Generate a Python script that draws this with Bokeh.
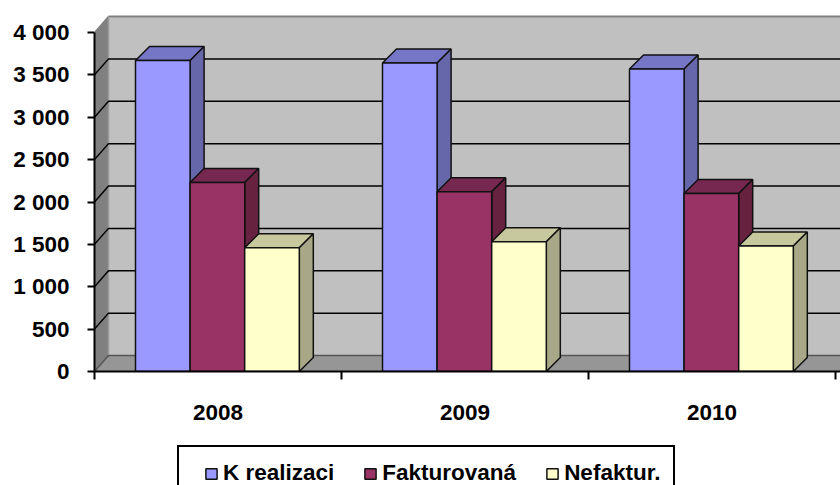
from bokeh.plotting import figure
from bokeh.layouts import column
from bokeh.models import Range1d, LinearAxis, FixedTicker, Legend, LegendItem
from bokeh.embed import file_html
from bokeh.resources import INLINE

years = ["2008", "2009", "2010"]
series = ["K realizaci", "Fakturovaná", "Nefaktur."]
k_realizaci = [3670, 3640, 3570]
fakturovana = [2230, 2120, 2100]
nefaktur = [1460, 1530, 1480]
y_ticks = [0, 500, 1000, 1500, 2000, 2500, 3000, 3500, 4000]
y_labels = ["0", "500", "1 000", "1 500", "2 000", "2 500", "3 000", "3 500", "4 000"]
front = ["#9999FF", "#993366", "#FFFFCC"]
top = ["#7676C6", "#772850", "#C8C89E"]
side = ["#6666AA", "#66223F", "#A8A888"]

W, H1, H2 = 840, 440, 45
LEFT, BOTTOM = 94, 69
PX_X = 247.0          # pixels per category
PX_Y = 0.08475        # pixels per value unit
xr = Range1d(0, (W - LEFT) / PX_X)
yr = Range1d(0, (H1 - BOTTOM) / PX_Y)
WX, WY = 14 / PX_X, 16 / PX_Y       # wall depth
BX, BY = 14 / PX_X, 14 / PX_Y       # bar depth
BW = 54.6 / PX_X
START = 41 / PX_X

p = figure(width=W, height=H1, x_range=xr, y_range=yr, output_backend="svg", toolbar_location=None,
           x_axis_location=None, y_axis_location=None, min_border_left=LEFT, min_border_right=0,
           min_border_top=0, min_border_bottom=BOTTOM, outline_line_color=None,
           background_fill_color="white", border_fill_color="white")
p.grid.visible = False

xmax = xr.end
ymax = 4000
# walls and floor
p.patch([WX, xmax, xmax, WX], [WY, WY, ymax + WY, ymax + WY], fill_color="#C0C0C0", line_color=None)
p.patch([0, WX, WX, 0], [0, WY, ymax + WY, ymax], fill_color="#808080", line_color=None)
p.patch([0, WX, xmax, xmax], [0, WY, WY, 0], fill_color="#969696", line_color=None)
p.line([WX, xmax], [ymax + WY, ymax + WY], line_color="#808080", line_width=2)
p.line([0, WX], [ymax, ymax + WY], line_color="#808080", line_width=1.5)
p.line([WX, WX], [WY, ymax + WY], line_color="#9a9a9a", line_width=1.5)
# grid lines
for v in y_ticks[:-1]:
    c = "#000000" if v > 0 else "#555555"
    p.line([0, WX, xmax], [v, v + WY, v + WY], line_color=c, line_width=1.5)

for s, vals in enumerate([k_realizaci, fakturovana, nefaktur]):
    xs_l = [i + START + s * BW for i in range(3)]
    xs_r = [x + BW for x in xs_l]
    p.patches([[xl, xl + BX, xr_ + BX, xr_] for xl, xr_ in zip(xs_l, xs_r)],
              [[v, v + BY, v + BY, v] for v in vals],
              fill_color=top[s], line_color="#111111", line_width=1.5)
    p.patches([[xr_, xr_ + BX, xr_ + BX, xr_] for xr_ in xs_r],
              [[0, BY, v + BY, v] for v in vals],
              fill_color=side[s], line_color="#111111", line_width=1.5)
    p.quad(left=xs_l, right=xs_r, bottom=[0] * 3, top=vals,
           fill_color=front[s], line_color="#111111", line_width=1.5)

FONT = "Liberation Sans"
yax = LinearAxis(ticker=FixedTicker(ticks=y_ticks), bounds=(0, 4000),
                 major_label_overrides={t: l for t, l in zip(y_ticks, y_labels)})
yax.major_label_text_font = FONT
yax.major_label_text_font_style = "bold"
yax.major_label_text_font_size = "22.5px"
yax.major_label_text_color = "black"
yax.major_tick_in = 0
yax.major_tick_out = 7
yax.major_tick_line_width = 2
yax.major_tick_line_color = "black"
yax.minor_tick_out = 0
yax.minor_tick_in = 0
yax.axis_line_width = 2
yax.axis_line_color = "black"
yax.major_label_standoff = 18
p.add_layout(yax, "left")

xax = LinearAxis(ticker=FixedTicker(ticks=[0.5, 1.5, 2.5], minor_ticks=[0, 1, 2, 3]), bounds=(0, xmax),
                 major_label_overrides={0.5: years[0], 1.5: years[1], 2.5: years[2]})
xax.major_label_text_font = FONT
xax.major_label_text_font_style = "bold"
xax.major_label_text_font_size = "22.5px"
xax.major_label_text_color = "black"
xax.major_tick_in = 0
xax.major_tick_out = 0
xax.minor_tick_in = 0
xax.minor_tick_out = 8
xax.minor_tick_line_width = 2
xax.minor_tick_line_color = "black"
xax.axis_line_width = 2
xax.axis_line_color = "black"
xax.major_label_standoff = 25
p.add_layout(xax, "below")

# legend strip below the plot
q = figure(width=W, height=H2, x_range=(0, 1), y_range=(0, 1), output_backend="svg", toolbar_location=None,
           x_axis_location=None, y_axis_location=None, min_border=0, outline_line_color=None,
           background_fill_color="white", border_fill_color="white")
q.grid.visible = False
items = []
for s in range(3):
    r = q.quad(left=[-2], right=[-1], bottom=[-2], top=[-1], fill_color=front[s], line_color="#111111", line_width=1.5)
    items.append(LegendItem(label=series[s], renderers=[r]))
legend = Legend(items=items, orientation="horizontal", location=(83, -16),
                title=" ", title_location="left", title_standoff=11, title_text_font_size="1px",
                border_line_color="black", border_line_width=2, border_line_alpha=1, background_fill_color="white",
                background_fill_alpha=1,
                label_text_font=FONT, label_text_font_style="bold", label_text_font_size="22.5px",
                label_text_color="black", glyph_width=14, glyph_height=13, label_standoff=5, spacing=29,
                padding=13, margin=0)
q.add_layout(legend, "center")

open("out.html", "w").write(file_html(column(p, q, spacing=0), INLINE))
